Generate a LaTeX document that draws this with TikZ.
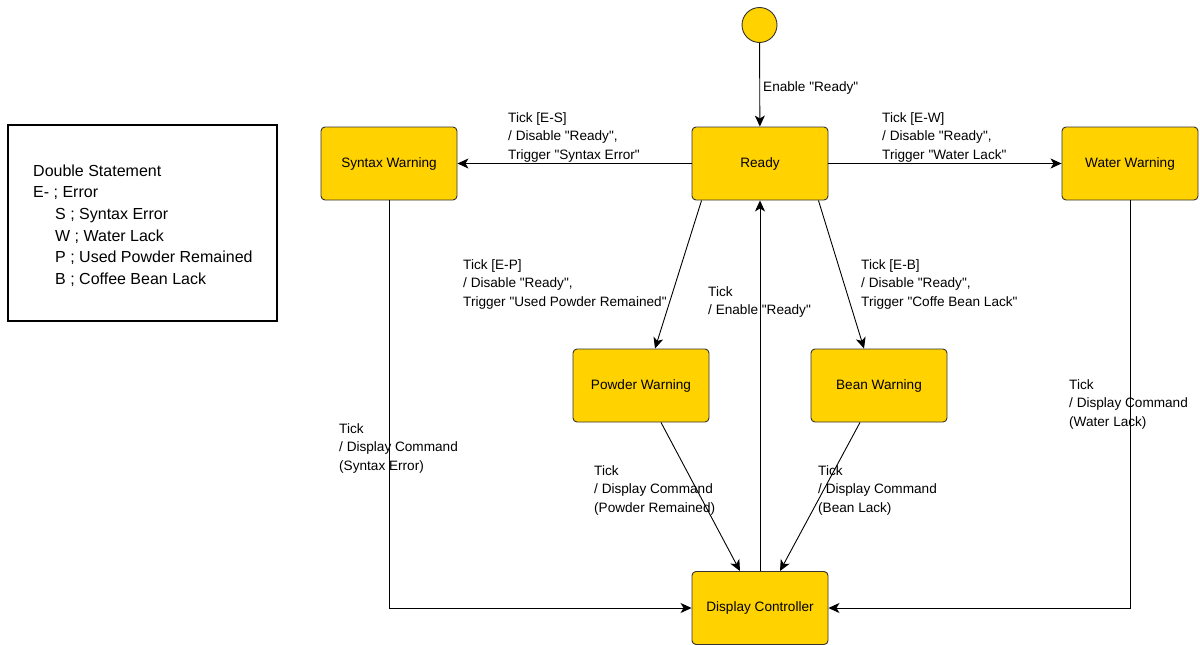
\documentclass[tikz,border=0pt]{standalone}
\usepackage{fontspec}
\setmainfont{Liberation Sans}[Ligatures=TeXOff]
\usetikzlibrary{arrows.meta,calc}
\definecolor{stateyellow}{HTML}{FFD200}
\definecolor{edgegray}{HTML}{333333}
\tikzset{
  state/.style={draw=edgegray, line width=0.9pt, fill=stateyellow, rounded corners=4pt,
    minimum width=136pt, minimum height=73pt, inner sep=0pt,
    font=\fontsize{13.6}{16}\selectfont},
  lbl/.style={anchor=north west, align=left, inner sep=0pt,
    font=\fontsize{13.6}{18.5}\selectfont},
  tr/.style={draw=black, line width=0.9pt, -{Stealth[length=11pt,width=10pt,inset=3pt]}},
}
\begin{document}
\begin{tikzpicture}[x=1pt,y=-1pt]
\useasboundingbox (0,0) rectangle (1200,645);
% legend
\node[draw=black, line width=1.8pt, minimum width=269pt, minimum height=196pt, inner sep=0pt] (legend) at (142.5,223) {};
\node[anchor=north west, align=left, inner sep=0pt, font=\fontsize{16}{21.6}\selectfont] (legendtext) at (33,164.5)
  {Double Statement\\E- ; Error\\\hspace*{22pt}S ; Syntax Error\\\hspace*{22pt}W ; Water Lack\\\hspace*{22pt}P ; Used Powder Remained\\\hspace*{22pt}B ; Coffee Bean Lack};
% states
\node[circle, draw=edgegray, line width=0.9pt, fill=stateyellow, minimum size=35pt, inner sep=0pt] (init) at (759.5,25) {};
\node[state] (ready) at (760,163.5) {Ready};
\node[state] (syntax) at (389,163.5) {Syntax Warning};
\node[state] (water) at (1130,163.5) {Water Warning};
\node[state] (powder) at (641,385.5) {Powder Warning};
\node[state] (bean) at (879,385.5) {Bean Warning};
\node[state] (display) at (760,608) {Display Controller};
% transitions
\draw[tr] (init) -- (ready);
\draw[tr] (ready.west) -- (syntax.east);
\draw[tr] (ready.east) -- (water.west);
\draw[tr] ($(ready.south west)+(10,0)$) -- ($(powder.north)+(14,0)$);
\draw[tr] ($(ready.south east)+(-10,0)$) -- ($(bean.north)+(-15,0)$);
\draw[tr] (display.north) -- (ready.south);
\draw[tr] ($(powder.south)+(20,0)$) -- ($(display.north)+(-20,0)$);
\draw[tr] ($(bean.south)+(-19,0)$) -- ($(display.north)+(20,0)$);
\draw[tr] (syntax.south) |- (display.west);
\draw[tr] (water.south) |- (display.east);
% labels
\node[lbl] (l0) at (763,81) {Enable "Ready"};
\node[lbl] (l1) at (508,112) {Tick [E-S]\\/ Disable "Ready",\\Trigger "Syntax Error"};
\node[lbl] (l2) at (882,112) {Tick [E-W]\\/ Disable "Ready",\\Trigger "Water Lack"};
\node[lbl] (l3) at (463,259) {Tick [E-P]\\/ Disable "Ready",\\Trigger "Used Powder Remained"};
\node[lbl] (l4) at (861,259) {Tick [E-B]\\/ Disable "Ready",\\Trigger "Coffe Bean Lack"};
\node[lbl] (l5) at (708,286) {Tick\\/ Enable "Ready"};
\node[lbl] (l6) at (594,465) {Tick\\/ Display Command\\(Powder Remained)};
\node[lbl] (l7) at (818,465) {Tick\\/ Display Command\\(Bean Lack)};
\node[lbl] (l8) at (339,423) {Tick\\/ Display Command\\(Syntax Error)};
\node[lbl] (l9) at (1069,379) {Tick\\/ Display Command\\(Water Lack)};
\end{tikzpicture}
\end{document}
